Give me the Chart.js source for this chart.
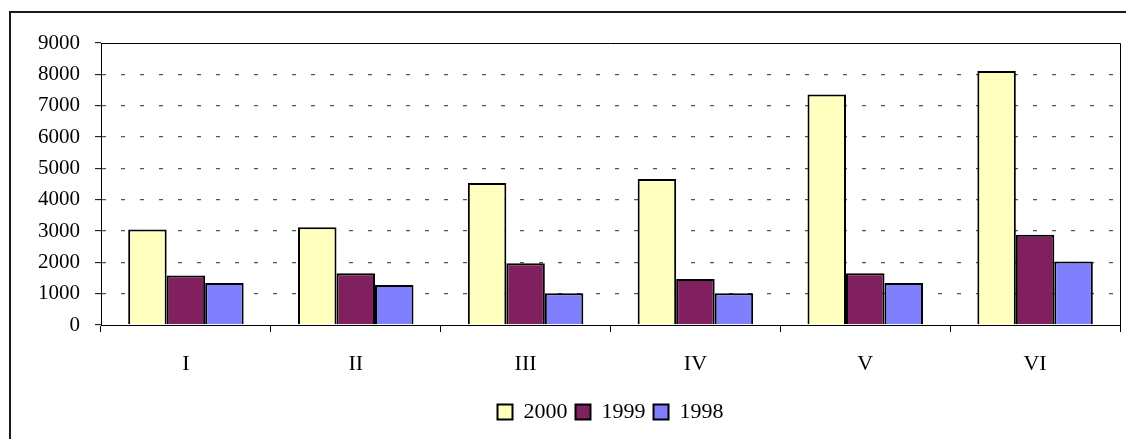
<!DOCTYPE html>
<html>
<head>
<meta charset="utf-8">
<script src="https://cdn.jsdelivr.net/npm/chart.js@4/dist/chart.umd.min.js"></script>
<style>
html,body{margin:0;padding:0;background:#fff;}
#wrap{width:1126px;height:439px;}
</style>
</head>
<body>
<div id="wrap"><canvas id="c" width="1126" height="439"></canvas></div>
<script>
const categories = ['I', 'II', 'III', 'IV', 'V', 'VI'];
const seriesNames = ['2000', '1999', '1998'];
const values2000 = [3050, 3120, 4530, 4660, 7360, 8110];
const values1999 = [1580, 1650, 1970, 1470, 1650, 2880];
const values1998 = [1340, 1280, 1010, 1010, 1340, 2030];
const yTicks = [0, 1000, 2000, 3000, 4000, 5000, 6000, 7000, 8000, 9000];

const FONT = "'Liberation Serif', 'Times New Roman', serif";

const framePlugin = {
  id: 'frame',
  beforeDraw(chart) {
    const ctx = chart.ctx;
    ctx.save();
    ctx.fillStyle = '#fff';
    ctx.fillRect(0, 0, chart.width, chart.height);
    ctx.strokeStyle = '#1a1a1a';
    ctx.lineWidth = 2;
    ctx.beginPath();
    ctx.moveTo(10, chart.height);
    ctx.lineTo(10, 12);
    ctx.lineTo(chart.width, 12);
    ctx.stroke();
    ctx.restore();
  },
  beforeDatasetsDraw(chart) {
    const {left, right, top, bottom} = chart.chartArea;
    const ctx = chart.ctx;
    ctx.save();
    ctx.strokeStyle = '#000';
    ctx.lineWidth = 1;
    ctx.beginPath();
    ctx.moveTo(left, top + 0.5);
    ctx.lineTo(right + 0.5, top + 0.5);
    ctx.lineTo(right + 0.5, bottom);
    ctx.stroke();
    ctx.restore();
  }
};

new Chart(document.getElementById('c'), {
  type: 'bar',
  data: {
    labels: categories,
    datasets: [
      {label: seriesNames[0], data: values2000, backgroundColor: '#FFFFC0'},
      {label: seriesNames[1], data: values1999, backgroundColor: '#80205F'},
      {label: seriesNames[2], data: values1998, backgroundColor: '#8080FF'}
    ]
  },
  options: {
    responsive: false,
    animation: false,
    devicePixelRatio: 1,
    layout: {padding: {top: 43, right: 6, left: 0, bottom: 6}},
    datasets: {
      bar: {
        categoryPercentage: 0.68,
        barPercentage: 1.0,
        borderColor: '#000',
        borderWidth: 2
      }
    },
    scales: {
      x: {
        grid: {offset: true, drawOnChartArea: false, drawTicks: true, tickLength: 7, tickColor: '#000', tickWidth: 1},
        border: {display: true, color: '#000', width: 1},
        ticks: {color: '#000', font: {family: FONT, size: 22}, padding: 19},
        afterFit(scale) { scale.height = 68; }
      },
      y: {
        min: 0, max: 9000,
        afterBuildTicks(scale) { scale.ticks = yTicks.map(v => ({value: v})); },
        grid: {
          color: (ctx) => (ctx.tick && (ctx.tick.value === 0 || ctx.tick.value === 9000)) ? 'rgba(0,0,0,0)' : '#555',
          lineWidth: 1.3,
          drawTicks: true, tickLength: 6, tickColor: '#000', tickWidth: 1
        },
        border: {display: true, color: '#000', width: 1, dash: [4, 15]},
        ticks: {color: '#000', font: {family: FONT, size: 21}, padding: 15, callback: (v) => String(v)},
        afterFit(scale) { scale.width = 101; }
      }
    },
    plugins: {
      legend: {
        position: 'bottom',
        fullSize: false,
        labels: {
          color: '#000',
          font: {family: FONT, size: 22},
          boxWidth: 15, boxHeight: 15,
          padding: 8
        }
      },
      tooltip: {enabled: false}
    }
  },
  plugins: [framePlugin]
});
</script>
</body>
</html>
